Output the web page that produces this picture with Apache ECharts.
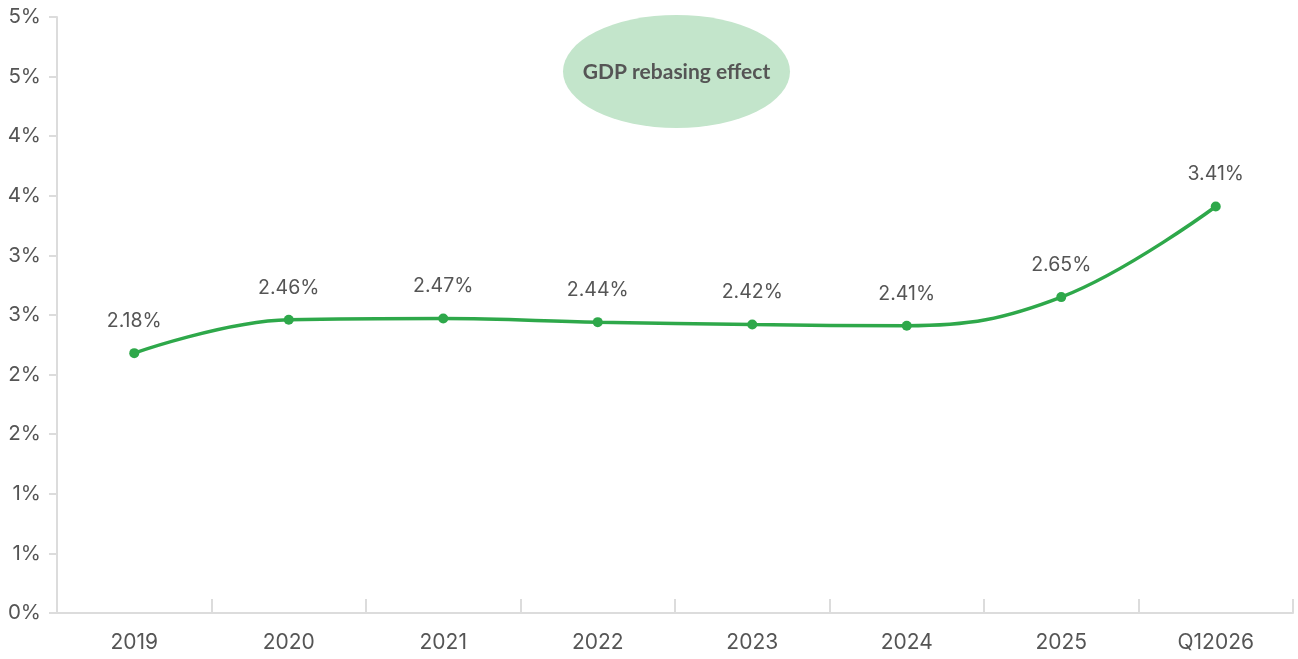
<!DOCTYPE html>
<html>
<head>
<meta charset="utf-8">
<script src="https://cdn.jsdelivr.net/npm/echarts@6/dist/echarts.min.js"></script>
<style>
  html, body { margin: 0; padding: 0; background: #fff; }
  #chart { width: 1298px; height: 659px; }
</style>
</head>
<body>
<div id="chart"></div>
<script>
// Periods on the horizontal axis
const periods = ['2019', '2020', '2021', '2022', '2023', '2024', '2025', 'Q12026'];
// Ratio in percent for each period
const ratioValues = [2.18, 2.46, 2.47, 2.44, 2.42, 2.41, 2.65, 3.41];
// Callout text
const calloutText = 'GDP rebasing effect';

const chart = echarts.init(document.getElementById('chart'), null, { renderer: 'canvas' });

const axisGray = '#dcdcdc';
const textGray = '#555555';
const lineGreen = '#2ea84a';

chart.setOption({
  animation: false,
  backgroundColor: '#ffffff',
  grid: { left: 57, right: 5, top: 17, bottom: 46, containLabel: false },
  xAxis: {
    type: 'category',
    data: periods,
    boundaryGap: true,
    axisLine: { show: true, lineStyle: { color: axisGray, width: 2 } },
    axisTick: { show: true, length: 14, inside: true, alignWithLabel: false, lineStyle: { color: axisGray, width: 2 } },
    axisLabel: { color: textGray, fontSize: 21, fontFamily: 'Inter', margin: 19 },
    splitLine: { show: false }
  },
  yAxis: {
    type: 'value',
    min: 0,
    max: 5,
    interval: 0.5,
    axisLine: { show: true, lineStyle: { color: axisGray, width: 2 } },
    axisTick: { show: true, length: 8, lineStyle: { color: axisGray, width: 2 } },
    axisLabel: {
      color: textGray, fontSize: 20.5, fontFamily: 'Inter', margin: 16,
      formatter: v => Math.round(v) + '%'
    },
    splitLine: { show: false }
  },
  series: [{
    type: 'line',
    data: ratioValues,
    smooth: 0.4,
    symbol: 'circle',
    symbolSize: 10,
    lineStyle: { color: lineGreen, width: 3.5 },
    itemStyle: { color: lineGreen },
    label: {
      show: true,
      position: 'top',
      distance: 17,
      color: textGray,
      fontSize: 19.5,
      fontFamily: 'Inter',
      formatter: p => p.value.toFixed(2) + '%'
    }
  }],
  graphic: [{
    type: 'group',
    left: 563,
    top: 15,
    children: [{
      type: 'circle',
      shape: { cx: 0, cy: 0, r: 56.5 },
      x: 113.5,
      y: 56.5,
      scaleX: 113.5 / 56.5,
      style: { fill: '#c3e5cb' }
    }, {
      type: 'text',
      x: 113.5,
      y: 57,
      style: {
        text: calloutText,
        fill: textGray,
        font: 'bold 21px Lato',
        textAlign: 'center',
        textVerticalAlign: 'middle'
      }
    }]
  }]
});
</script>
</body>
</html>
